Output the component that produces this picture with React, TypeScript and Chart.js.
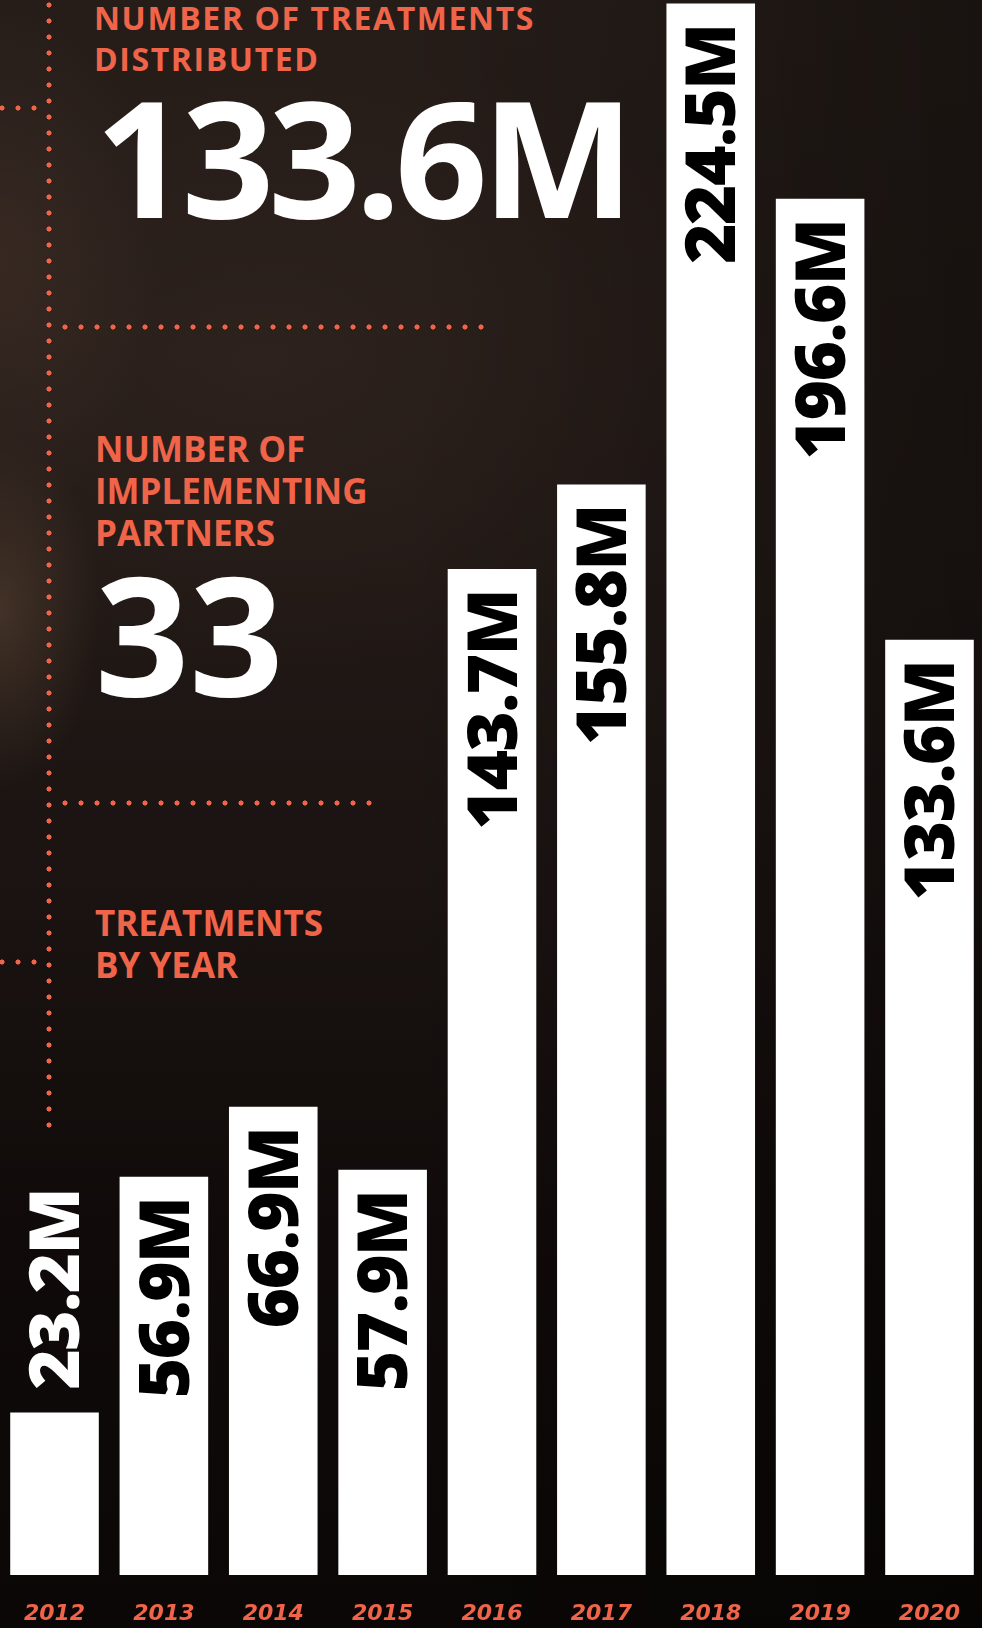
import React, { useEffect, useRef } from "react";
import { Chart, registerables } from "chart.js";

Chart.register(...registerables);

// ---- data ----
const years: string[] = ["2012", "2013", "2014", "2015", "2016", "2017", "2018", "2019", "2020"];
const treatmentsM: number[] = [23.2, 56.9, 66.9, 57.9, 143.7, 155.8, 224.5, 196.6, 133.6];
const totalTreatments = "133.6M";
const partnerCount = "33";
const headingTotal = ["NUMBER OF TREATMENTS", "DISTRIBUTED"];
const headingPartners = ["NUMBER OF", "IMPLEMENTING", "PARTNERS"];
const headingByYear = ["TREATMENTS", "BY YEAR"];

const ORANGE = "#F06449";
const SANS = "'Open Sans', 'Lato', sans-serif";

const barLabelPlugin = {
  id: "barLabels",
  afterDatasetsDraw(chart: any) {
    const ctx = chart.ctx;
    const meta = chart.getDatasetMeta(0);
    const ds = chart.data.datasets[0];
    const fontSize = 69;
    const cap = fontSize * 0.714;
    const pad = 21;
    ctx.save();
    ctx.font = `800 ${fontSize}px ${SANS}`;
    if ("letterSpacing" in ctx) (ctx as any).letterSpacing = "-1.5px";
    meta.data.forEach((bar: any, i: number) => {
      const v = ds.data[i] as number;
      const text = `${v.toFixed(1)}M`;
      const w = ctx.measureText(text).width;
      const h = bar.base - bar.y;
      const inside = h > w + pad * 2;
      ctx.save();
      ctx.translate(bar.x + cap / 2, inside ? bar.y + pad : bar.y - 23);
      ctx.rotate(-Math.PI / 2);
      ctx.textBaseline = "alphabetic";
      ctx.textAlign = inside ? "right" : "left";
      ctx.fillStyle = inside ? "#000000" : "#ffffff";
      ctx.fillText(text, 0, 0);
      ctx.restore();
    });
    ctx.restore();
  },
};

function BarChart() {
  const ref = useRef<HTMLCanvasElement | null>(null);
  useEffect(() => {
    if (!ref.current) return;
    const chart = new Chart(ref.current, {
      type: "bar",
      data: {
        labels: years,
        datasets: [
          {
            data: treatmentsM,
            backgroundColor: "#ffffff",
            borderWidth: 0,
            barPercentage: 0.81,
            categoryPercentage: 1,
          },
        ],
      },
      options: {
        animation: false,
        responsive: false,
        maintainAspectRatio: false,
        devicePixelRatio: 1,
        layout: { padding: 0 },
        plugins: {
          legend: { display: false },
          tooltip: { enabled: false },
          title: { display: false },
        },
        scales: {
          x: {
            grid: { display: false, drawTicks: false },
            border: { display: false },
            ticks: {
              color: ORANGE,
              font: { family: "'DejaVu Sans', sans-serif", style: "italic", weight: "bold", size: 22 },
              padding: 26,
              maxRotation: 0,
              autoSkip: false,
            },
            afterFit: (s: any) => {
              s.height = 53;
            },
          },
          y: { display: false, min: 0, max: 225 },
        },
      },
      plugins: [barLabelPlugin],
    } as any);
    return () => chart.destroy();
  }, []);
  return (
    <canvas
      ref={ref}
      width={988}
      height={1628}
      style={{ position: "absolute", left: -2, top: 0, width: 988, height: 1628 }}
    />
  );
}

const dotBg = `radial-gradient(circle at 8px 8px, ${ORANGE} 0px, ${ORANGE} 2.2px, rgba(240,100,73,0) 2.9px)`;

function Dots({ left, top, width, height, dir }: { left: number; top: number; width: number; height: number; dir: "x" | "y" }) {
  return (
    <div
      style={{
        position: "absolute",
        left,
        top,
        width,
        height,
        backgroundImage: dotBg,
        backgroundSize: "16px 16px",
        backgroundRepeat: dir === "x" ? "repeat-x" : "repeat-y",
      }}
    />
  );
}

export default function App() {
  useEffect(() => {
    document.body.style.margin = "0";
  }, []);
  const head: React.CSSProperties = {
    position: "absolute",
    color: ORANGE,
    fontFamily: SANS,
    fontWeight: 700,
    whiteSpace: "nowrap",
    margin: 0,
  };
  return (
    <div
      style={{
        position: "absolute",
        left: 0,
        top: 0,
        width: 982,
        height: 1628,
        overflow: "hidden",
        background: [
          "radial-gradient(ellipse 100px 180px at 0px 610px, rgba(88,66,50,0.6), rgba(88,66,50,0) 100%)",
          "radial-gradient(ellipse 160px 260px at 0px 260px, rgba(70,52,42,0.5), rgba(70,52,42,0) 100%)",
          "radial-gradient(ellipse 520px 320px at 260px 360px, rgba(58,42,35,0.45), rgba(58,42,35,0) 100%)",
          "linear-gradient(to right, rgba(0,0,0,0) 40%, rgba(0,0,0,0.35) 100%)",
          "linear-gradient(to bottom, #261d19 0%, #211916 35%, #1a1311 55%, #100b0a 75%, #0a0706 100%)",
        ].join(", "),
      }}
    >
      {/* dotted guide lines */}
      <Dots left={41} top={-3} width={16} height={1136} dir="y" />
      <Dots left={-6} top={100} width={48} height={16} dir="x" />
      <Dots left={57} top={319} width={432} height={16} dir="x" />
      <Dots left={57} top={795} width={320} height={16} dir="x" />
      <Dots left={-6} top={954} width={48} height={16} dir="x" />

      <div style={{ ...head, left: 94, top: -3, fontSize: 32, lineHeight: "41px", letterSpacing: "1.6px" }}>
        {headingTotal.map((t) => (
          <div key={t}>{t}</div>
        ))}
      </div>
      <div
        style={{
          position: "absolute",
          left: 95,
          top: 74,
          color: "#ffffff",
          fontFamily: SANS,
          fontWeight: 700,
          fontSize: 162,
          lineHeight: "162px",
          letterSpacing: "-6px",
          whiteSpace: "nowrap",
        }}
      >
        {totalTreatments}
      </div>

      <div style={{ ...head, left: 95, top: 428, fontSize: 35, lineHeight: "42px" }}>
        {headingPartners.map((t) => (
          <div key={t}>{t}</div>
        ))}
      </div>
      <div
        style={{
          position: "absolute",
          left: 95,
          top: 550,
          color: "#ffffff",
          fontFamily: SANS,
          fontWeight: 700,
          fontSize: 165,
          lineHeight: "165px",
          whiteSpace: "nowrap",
        }}
      >
        {partnerCount}
      </div>

      <div style={{ ...head, left: 95, top: 902, fontSize: 35, lineHeight: "42px" }}>
        {headingByYear.map((t) => (
          <div key={t}>{t}</div>
        ))}
      </div>

      <BarChart />
    </div>
  );
}
